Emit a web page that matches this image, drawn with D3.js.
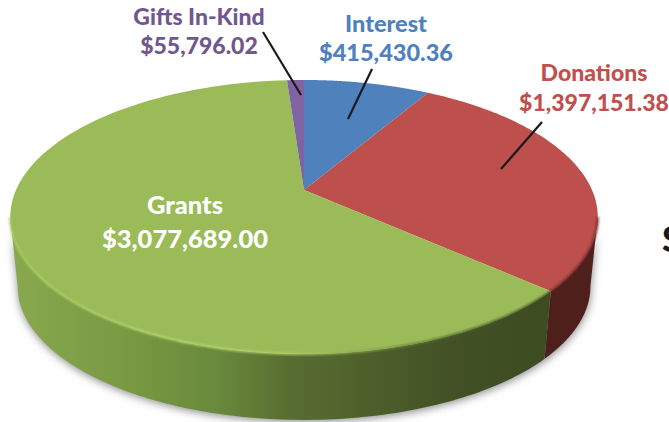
<!DOCTYPE html>
<html>
<head>
<meta charset="utf-8">
<script src="https://cdn.jsdelivr.net/npm/d3@7"></script>
<style>
html, body { margin: 0; padding: 0; background: #fff; overflow: hidden; }
svg { display: block; }
text { font-family: Lato, sans-serif; font-weight: 900; }
</style>
</head>
<body>
<svg></svg>
<script>
var categories = ["Interest", "Donations", "Grants", "Gifts In-Kind"]
var amounts = [415430.36, 1397151.38, 3077689.00, 55796.02]
var amountLabels = ["$415,430.36", "$1,397,151.38", "$3,077,689.00", "$55,796.02"]
var topColors = ["#4f81bd", "#bd4f4c", "#9bbb59", "#8064a2"]
var labelColors = ["#4f81bd", "#c0504d", "#ffffff", "#70588f"]
var sideColors = ["#2c4a6e", "#4f1f1c", "url(#greenSide)", "#4a3a5e"]

var svg = d3.select("svg")
    .attr("width", 669)
    .attr("height", 422)

var defs = svg.append("defs")

defs.append("filter").attr("id", "blur").attr("x", "-10%").attr("y", "-10%").attr("width", "120%").attr("height", "120%")
    .append("feGaussianBlur").attr("stdDeviation", 4)
defs.append("filter").attr("id", "soft").attr("x", "-10%").attr("y", "-10%").attr("width", "120%").attr("height", "120%")
    .append("feGaussianBlur").attr("stdDeviation", 0.8)

function addGradient(id, x1, x2, stops) {
    var g = defs.append("linearGradient").attr("id", id)
        .attr("gradientUnits", "userSpaceOnUse")
        .attr("x1", x1).attr("x2", x2).attr("y1", 0).attr("y2", 0)
    g.selectAll("stop")
        .data(stops)
        .enter().append("stop")
        .attr("offset", d => d[0])
        .attr("stop-color", d => d[1])
}

addGradient("greenSide", 12, 548, [[0, "#88a94e"], [0.2, "#7a9a43"], [0.38, "#6a8a3c"], [0.52, "#586d31"], [0.7, "#4a5d2a"], [0.85, "#414f24"], [1, "#3e4c22"]])
addGradient("greenRim", 10, 548, [[0, "#a9c862"], [0.3, "#b9d96f"], [0.52, "#b4d26a"], [0.66, "#8aa44c"], [0.8, "#55682e"], [1, "#3e4c22"]])

//perspective of the disc: u/v on the unit circle -> screen
var tilt = -0.197
var xScale = d3.scaleLinear().domain([-1, 1]).range([304 - 288, 304 + 288])
var yScale = d3.scaleLinear().domain([-1, 1]).range([190 - 131.7, 190 + 131.7])
var depthDrop = 70
var depthShrink = 0.975
var sideStart = Math.PI / 2 + 0.198
var sideEnd = 3 * Math.PI / 2 - 0.198

function project(angle, bottom) {
    var u = Math.sin(angle), v = -Math.cos(angle)
    var w = 1 + tilt * v
    var s = bottom ? depthShrink : 1
    var x = 304 + (xScale(u / w) - 304) * s
    var y = 190 + (yScale(v / w) - 190) * s + (bottom ? depthDrop : 0)
    return [x, y]
}

function arcPoints(a0, a1, bottom) {
    return d3.range(0, 121).map(i => project(a0 + (a1 - a0) * i / 120, bottom))
}

var line = d3.line()

var pie = d3.pie().sort(null)
var slices = pie(amounts)

//drop shadow
svg.append("path")
    .attr("d", line(arcPoints(sideStart, sideEnd, true).concat(arcPoints(sideEnd, sideStart, false)).map(p => [p[0] + 0.5, p[1] + 2])) + "Z")
    .attr("fill", "#8c8c8c")
    .attr("filter", "url(#blur)")

//side walls, only the part facing the viewer
var front = svg.append("g")
slices.forEach(function (d, i) {
    var a0 = Math.max(d.startAngle, sideStart)
    var a1 = Math.min(d.endAngle, sideEnd)
    if (a1 <= a0) return
    var pts = arcPoints(a0, a1, false).concat(arcPoints(a0, a1, true).reverse())
    front.append("path")
        .attr("d", line(pts) + "Z")
        .attr("fill", sideColors[i])
})

//top face
var topFace = svg.append("g")
slices.forEach(function (d, i) {
    var pts = [[304, 190]].concat(arcPoints(d.startAngle, d.endAngle, false))
    topFace.append("path")
        .attr("d", line(pts) + "Z")
        .attr("fill", topColors[i])
})

//bevel along the front rim
svg.append("path")
    .attr("d", line(arcPoints(slices[2].startAngle, sideEnd, false)))
    .attr("fill", "none")
    .attr("stroke", "url(#greenRim)")
    .attr("stroke-width", 2)
    .attr("filter", "url(#soft)")
svg.append("path")
    .attr("d", line(arcPoints(sideStart, slices[1].endAngle, false)))
    .attr("fill", "none")
    .attr("stroke", "#6e2b28")
    .attr("stroke-width", 2)
    .attr("filter", "url(#soft)")

//leader lines
var leaders = [[[372, 69], [348, 119]], [[542, 122], [501, 169]], [[263, 32], [301, 95]]]
svg.selectAll("line.leader")
    .data(leaders)
    .enter().append("line")
    .attr("class", "leader")
    .attr("x1", d => d[0][0]).attr("y1", d => d[0][1])
    .attr("x2", d => d[1][0]).attr("y2", d => d[1][1])
    .attr("stroke", "#1a1a1a")
    .attr("stroke-width", 2.2)

//labels
var labelPos = [[386, 32, 61], [594, 81, 111], [185, 214, 248], [199, 25, 54]]
var labelSizes = [23.5, 23, 25.5, 23]
categories.forEach(function (name, i) {
    var p = labelPos[i]
    svg.append("text").attr("x", p[0]).attr("y", p[1])
        .attr("text-anchor", "middle").attr("font-size", labelSizes[i])
        .attr("fill", labelColors[i]).text(name)
    svg.append("text").attr("x", p[0]).attr("y", p[2])
        .attr("text-anchor", "middle").attr("font-size", labelSizes[i])
        .attr("fill", labelColors[i]).text(amountLabels[i])
})

//clipped letter at the right edge
svg.append("text").attr("x", 662).attr("y", 252)
    .attr("font-size", 36).attr("fill", "#1a1a1a").text("S")
</script>
</body>
</html>
